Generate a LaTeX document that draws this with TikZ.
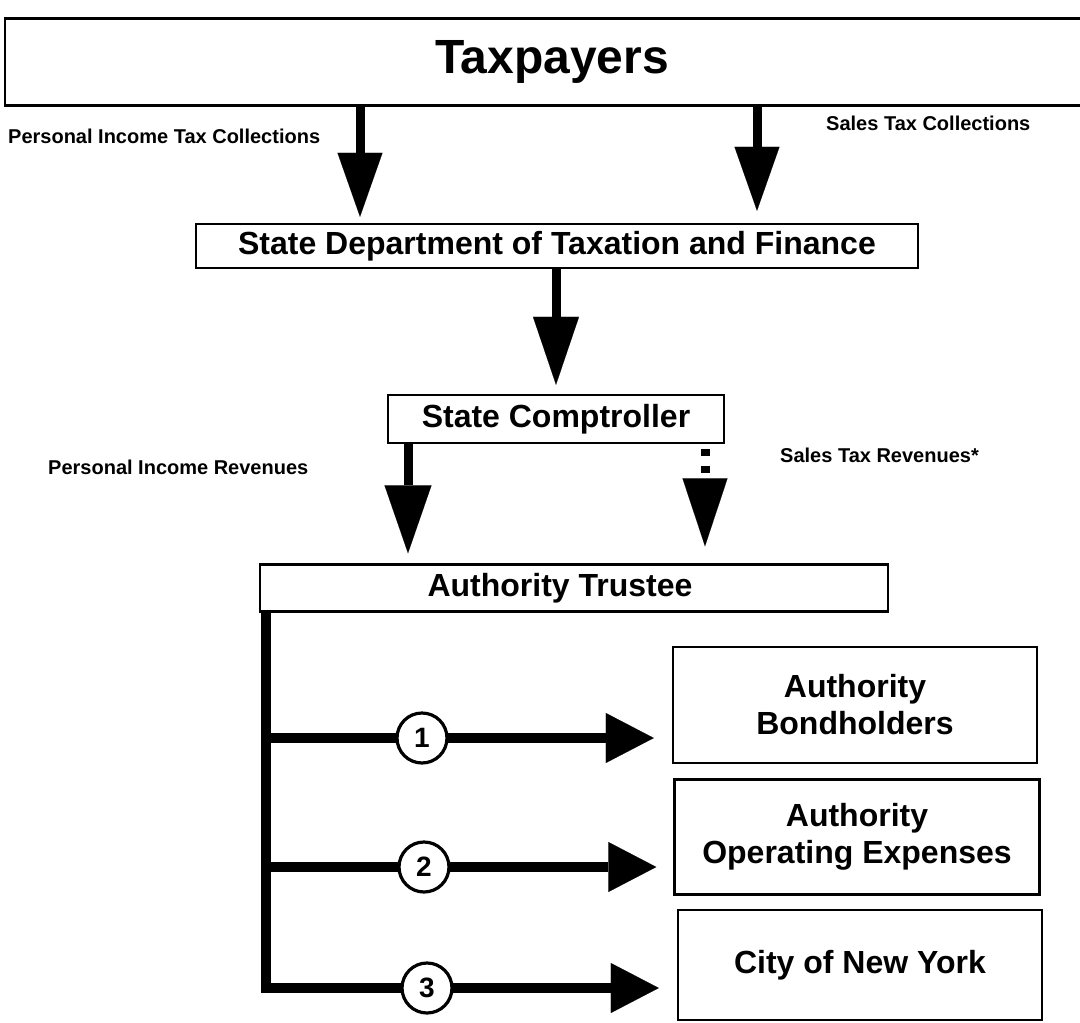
\documentclass[tikz,border=0pt]{standalone}
\usepackage{fontspec}
\setmainfont{Liberation Sans}
\usetikzlibrary{arrows.meta}
\begin{document}
\begin{tikzpicture}[x=1pt,y=-1pt,
  box/.style={draw=black, line width=2.4pt, inner sep=0pt, align=center, font=\bfseries\fontsize{32}{37}\selectfont},
  lbl/.style={anchor=west, inner sep=0pt, font=\bfseries\fontsize{20}{24}\selectfont},
  downarrow/.style={line width=9pt, -{Triangle[length=64pt,width=45pt,line width=0.1pt]}},
  rightarrow/.style={line width=10pt, -{Triangle[length=48pt,width=50pt,line width=0.1pt]}},
  numcirc/.style={circle, draw=black, fill=white, line width=3.2pt, minimum size=50pt, inner sep=0pt, font=\bfseries\fontsize{28}{28}\selectfont}
]
\useasboundingbox[fill=white] (0,0) rectangle (1080,1023);

% boxes
\node[box, minimum width=1094pt, minimum height=87pt, font=\bfseries\fontsize{48}{50}\selectfont] (tax) at (552,62) {Taxpayers};
\node[box, minimum width=722pt, minimum height=44pt] (dept) at (557,246) {State Department of Taxation and Finance};
\node[box, minimum width=336pt, minimum height=48pt] (comp) at (556,419) {State Comptroller};
\node[box, minimum width=628pt, minimum height=47pt] (trustee) at (574,588) {};
\node[inner sep=0pt, font=\bfseries\fontsize{32}{37}\selectfont] (trustext) at (560,588) {Authority Trustee};
\node[box, minimum width=364pt, minimum height=116pt] (bond) at (855,705) {Authority\\Bondholders};
\node[box, minimum width=365pt, minimum height=115pt] (oper) at (857,837) {Authority\\Operating Expenses};
\node[box, minimum width=364pt, minimum height=110pt] (city) at (860,965) {City of New York};

% labels
\node[lbl] (l1) at (8,136) {Personal Income Tax Collections};
\node[lbl] (l2) at (826,123) {Sales Tax Collections};
\node[lbl] (l3) at (48,467) {Personal Income Revenues};
\node[lbl] (l4) at (780,455) {Sales Tax Revenues*};

% x positions of vertical connectors
\coordinate (xa) at (360,0);
\coordinate (xb) at (757,0);
\coordinate (xc) at (556,0);
\coordinate (xd) at (408,0);
\coordinate (xe) at (705,0);

\draw[downarrow, shorten >=6pt] (tax.south -| xa) -- (dept.north -| xa);
\draw[downarrow, shorten >=12pt] (tax.south -| xb) -- (dept.north -| xb);
\draw[downarrow, -{Triangle[length=68pt,width=46pt,line width=0.1pt]}, shorten >=9pt] (dept.south -| xc) -- (comp.north -| xc);
\draw[downarrow, -{Triangle[length=68pt,width=47pt,line width=0.1pt]}, shorten >=10pt] (comp.south -| xd) -- (trustee.north -| xd);
\draw[downarrow, -{Triangle[length=68pt,width=45pt,line width=0.1pt]}, dash pattern=on 7pt off 10pt, shorten <=5pt, shorten >=17pt] (comp.south -| xe) -- (trustee.north -| xe);

% distribution bar and branches
\coordinate (bar0) at (266,611);
\coordinate (bar1) at (266,738);
\coordinate (bar2) at (266,867);
\coordinate (bar3) at (266,988);
\draw[rightarrow, line join=miter, shorten >=18pt] (bar0) -- (bar3) -- (city.west |- bar3);
\draw[rightarrow, shorten >=18pt] (bar1) -- (bond.west |- bar1);
\draw[rightarrow, shorten >=17pt] (bar2) -- (oper.west |- bar2);

\node[numcirc] (c1) at (422,738) {1};
\node[numcirc] (c2) at (424,867) {2};
\node[numcirc] (c3) at (427,988) {3};
\end{tikzpicture}
\end{document}
